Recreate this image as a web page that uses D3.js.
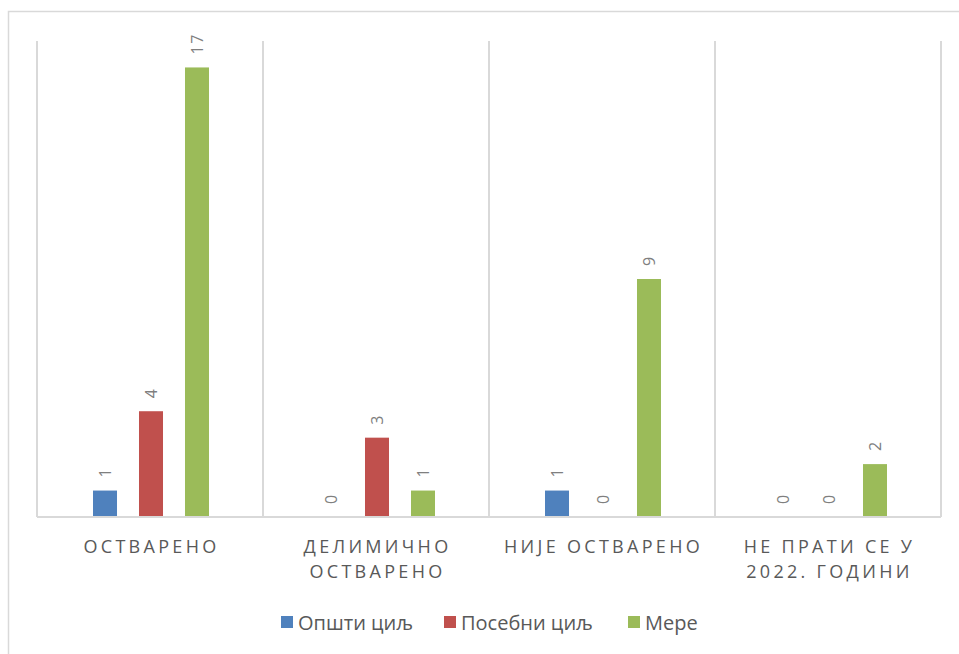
<!DOCTYPE html>
<html>
<head>
<meta charset="utf-8">
<script src="https://cdn.jsdelivr.net/npm/d3@7"></script>
<style>
  body { margin: 0; background: #fff; }
  svg { display: block; }
</style>
</head>
<body>
<div class="chartcontainer"></div>
<script>
const categories = [
  ['ОСТВАРЕНО'],
  ['ДЕЛИМИЧНО', 'ОСТВАРЕНО'],
  ['НИЈЕ ОСТВАРЕНО'],
  ['НЕ ПРАТИ СЕ У', '2022. ГОДИНИ'],
];
const seriesNames = ['Општи циљ', 'Посебни циљ', 'Мере'];
const seriesColors = ['#4f81bd', '#c0504d', '#9bbb59'];
const opstiCilj = [1, 0, 1, 0];
const posebniCilj = [4, 3, 0, 0];
const mere = [17, 1, 9, 2];
const values = [opstiCilj, posebniCilj, mere];

const width = 959;
const height = 654;
const plot = {left: 37, right: 941, top: 41, bottom: 517};

const svg = d3
  .select('.chartcontainer')
  .append('svg')
  .attr('width', width)
  .attr('height', height);

// outer chart border
svg
  .append('rect')
  .attr('x', 8.5)
  .attr('y', 11.5)
  .attr('width', 980)
  .attr('height', 700)
  .attr('fill', 'none')
  .attr('stroke', '#d9d9d9')
  .attr('stroke-width', 1.5);

const x0 = d3
  .scaleBand()
  .domain(d3.range(categories.length))
  .range([plot.left, plot.right]);

const x1 = d3
  .scaleBand()
  .domain(d3.range(seriesNames.length))
  .range([56, 172])
  .paddingInner(0.478)
  .paddingOuter(0);

const y = d3.scaleLinear().domain([0, 18]).range([plot.bottom, plot.top]);

// vertical separators
svg
  .append('g')
  .selectAll('line')
  .data(d3.range(categories.length + 1))
  .enter()
  .append('line')
  .attr('x1', d => (d < categories.length ? x0(d) : plot.right))
  .attr('x2', d => (d < categories.length ? x0(d) : plot.right))
  .attr('y1', plot.top)
  .attr('y2', plot.bottom)
  .attr('stroke', '#d9d9d9')
  .attr('stroke-width', 2);

const groups = svg
  .append('g')
  .selectAll('g')
  .data(categories)
  .enter()
  .append('g')
  .attr('transform', (d, i) => `translate(${x0(i)},0)`);

groups.each(function(cat, ci) {
  const g = d3.select(this);
  seriesNames.forEach((name, si) => {
    const v = values[si][ci];
    const bx = x1(si);
    if (v > 0) {
      g.append('rect')
        .attr('x', bx)
        .attr('y', y(v))
        .attr('width', x1.bandwidth())
        .attr('height', y(0) - y(v))
        .attr('fill', seriesColors[si]);
    }
    const lx = bx + x1.bandwidth() / 2;
    const ly = y(v) - 13;
    g.append('text')
      .attr('transform', `translate(${lx},${ly}) rotate(-90)`)
      .attr('text-anchor', 'start')
      .attr('dy', '0.35em')
      .style('font-family', '"Open Sans", sans-serif')
      .style('font-size', '16px')
      .style('fill', '#7f7f7f')
      .style('letter-spacing', '1.5px')
      .text(v);
  });
});

// baseline
svg
  .append('line')
  .attr('x1', plot.left)
  .attr('x2', plot.right)
  .attr('y1', plot.bottom)
  .attr('y2', plot.bottom)
  .attr('stroke', '#d9d9d9')
  .attr('stroke-width', 2);

// category labels
groups
  .append('text')
  .attr('text-anchor', 'middle')
  .style('font-family', '"Open Sans", sans-serif')
  .style('font-size', '18px')
  .style('fill', '#595959')
  .style('letter-spacing', '3.3px')
  .selectAll('tspan')
  .data(d => d)
  .enter()
  .append('tspan')
  .attr('x', x0.bandwidth() / 2 + 1.5)
  .attr('y', (d, i) => 553 + i * 25)
  .text(d => d);

// legend
const legendX = [281, 444, 628];
const legend = svg
  .append('g')
  .selectAll('g')
  .data(seriesNames)
  .enter()
  .append('g')
  .attr('transform', (d, i) => `translate(${legendX[i]},623)`);

legend
  .append('rect')
  .attr('x', 0)
  .attr('y', -7)
  .attr('width', 12)
  .attr('height', 12)
  .attr('fill', (d, i) => seriesColors[i]);

legend
  .append('text')
  .attr('x', 17)
  .attr('y', 7)
  .style('font-family', '"Open Sans", sans-serif')
  .style('font-size', '20px')
  .style('fill', '#595959')
  .text(d => d);
</script>
</body>
</html>
